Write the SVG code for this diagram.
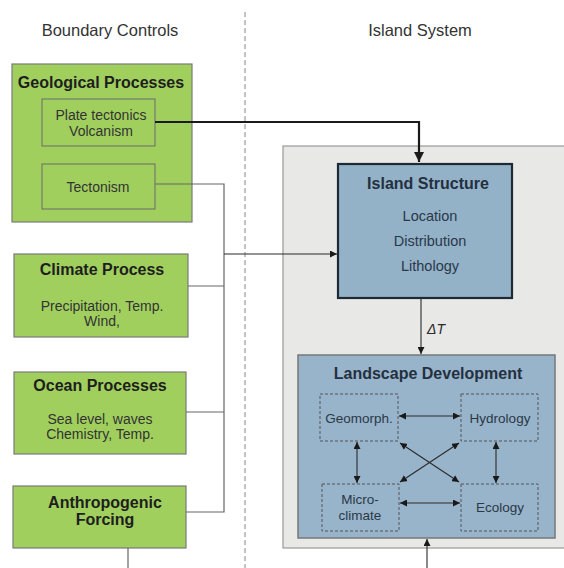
<svg xmlns="http://www.w3.org/2000/svg" width="564" height="568" viewBox="0 0 564 568">
<defs>
<style>
text{font-family:"Liberation Sans",Arial,sans-serif;fill:#2a2a2a;text-anchor:middle}
.h{font-size:16.5px;fill:#333}
.t{font-size:16px;font-weight:bold;fill:#1e1e1e}
.b{font-size:14px;fill:#333}
.bt{font-size:16px;font-weight:bold;fill:#243040}
.bb{font-size:14.5px;fill:#2a3848}
.s{font-size:13.5px;fill:#2a3848}
.green{fill:#a0cf5e;stroke:#7a7a7a;stroke-width:1.2}
.sub{fill:#a0cf5e;stroke:#6a6a6a;stroke-width:1}
.c{fill:none;stroke:#666;stroke-width:1.2}
.k{fill:none;stroke:#1a1a1a;stroke-width:2.2}
.a{fill:none;stroke:#2a2a2a;stroke-width:1.1}
.dash{fill:none;stroke:#555;stroke-width:1;stroke-dasharray:3,2}
</style>
<marker id="ar" viewBox="0 0 10 10" refX="10" refY="5" markerWidth="7" markerHeight="7" orient="auto-start-reverse" markerUnits="userSpaceOnUse"><path d="M0,0L10,5L0,10z" fill="#1a1a1a"/></marker>
<marker id="ak" viewBox="0 0 10 10" refX="10" refY="5" markerWidth="10" markerHeight="10" orient="auto" markerUnits="userSpaceOnUse"><path d="M0,0L10,5L0,10z" fill="#1a1a1a"/></marker>
</defs>
<rect width="564" height="568" fill="#fff"/>
<line x1="245" y1="12" x2="245" y2="568" stroke="#888" stroke-width="1" stroke-dasharray="5,3"/>
<text class="h" x="110" y="36">Boundary Controls</text>
<text class="h" x="420" y="36">Island System</text>
<g id="island-system"><rect x="283" y="146" width="290" height="402" fill="#e8e8e6" stroke="#999" stroke-width="1.2"/></g>
<g id="geological"><rect class="green" x="12" y="64" width="180" height="158"/><text class="t" x="101" y="88">Geological Processes</text></g>
<g id="plate"><rect class="sub" x="42" y="99" width="113" height="47" stroke="#1a1a1a" stroke-width="2"/><text class="b" x="101" y="120">Plate tectonics</text><text class="b" x="101" y="136">Volcanism</text></g>
<g id="tectonism"><rect class="sub" x="42" y="164" width="113" height="45"/><text class="b" x="98" y="192">Tectonism</text></g>
<g id="climate"><rect class="green" x="14" y="254" width="174" height="83"/><text class="t" x="102" y="275">Climate Process</text><text class="b" x="102" y="311">Precipitation, Temp.</text><text class="b" x="102" y="326">Wind,</text></g>
<g id="ocean"><rect class="green" x="14" y="372" width="172" height="82"/><text class="t" x="100" y="391">Ocean Processes</text><text class="b" x="100" y="424">Sea level, waves</text><text class="b" x="100" y="439">Chemistry, Temp.</text></g>
<g id="anthro"><rect class="green" x="13" y="486" width="173" height="62"/><text class="t" x="105" y="508">Anthropogenic</text><text class="t" x="105" y="525">Forcing</text></g>
<g id="structure"><rect x="338" y="164" width="174" height="134" fill="#93b2c8" stroke="#1e2a33" stroke-width="2.2"/><text class="bt" x="428" y="189">Island Structure</text><text class="bb" x="430" y="221">Location</text><text class="bb" x="430" y="246">Distribution</text><text class="bb" x="430" y="271">Lithology</text></g>
<g id="landscape"><rect x="298" y="355" width="257" height="183" fill="#98b4ca" stroke="#777" stroke-width="1.5"/><text class="bt" x="428" y="379">Landscape Development</text></g>
<g id="geomorph"><rect class="dash" x="320" y="394" width="78" height="47"/><text class="s" x="359" y="423">Geomorph.</text></g>
<g id="hydrology"><rect class="dash" x="461" y="394" width="77" height="47"/><text class="s" x="500" y="423">Hydrology</text></g>
<g id="microclimate"><rect class="dash" x="322" y="484" width="77" height="47"/><text class="s" x="360" y="504">Micro-</text><text class="s" x="360" y="520">climate</text></g>
<g id="ecology"><rect class="dash" x="461" y="484" width="77" height="47"/><text class="s" x="500" y="512">Ecology</text></g>
<g id="connectors">
<path class="k" d="M155,122H419V162" marker-end="url(#ak)"/>
<path class="c" d="M155,184H224V512H186M188,286H224M186,412H224"/>
<path class="a" d="M224,254H337" marker-end="url(#ar)"/>
<path class="a" d="M421,298V354" marker-end="url(#ar)"/>
<text x="436" y="334" font-size="14" font-style="italic" fill="#333" text-anchor="start">ΔT</text>
<path class="c" d="M128,548V568"/>
<path class="a" d="M427,568V539" marker-end="url(#ar)"/>
<path class="a" d="M399,416H460" marker-start="url(#ar)" marker-end="url(#ar)"/>
<path class="a" d="M400,503H460" marker-start="url(#ar)" marker-end="url(#ar)"/>
<path class="a" d="M357,442V483" marker-start="url(#ar)" marker-end="url(#ar)"/>
<path class="a" d="M496,442V483" marker-start="url(#ar)" marker-end="url(#ar)"/>
<path class="a" d="M400,443L459,482" marker-start="url(#ar)" marker-end="url(#ar)"/>
<path class="a" d="M459,443L400,482" marker-start="url(#ar)" marker-end="url(#ar)"/>
</g>
</svg>
